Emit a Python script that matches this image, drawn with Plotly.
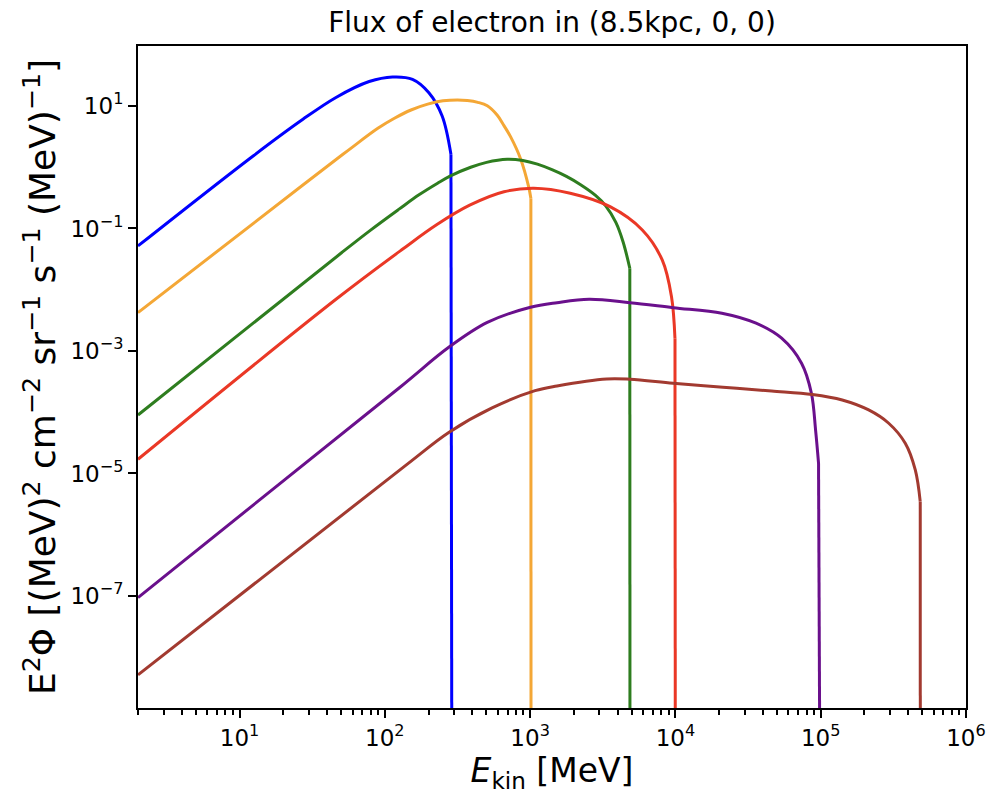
import math
import plotly.graph_objects as go

# ---- data; last point of each = cutoff (flux ~ 0) ----
E_blue = [2, 12.4, 27.3, 46.1, 78.0, 113, 155, 201, 248, 285, 290]
F_blue = [5.19e-2, 1.53, 6.07, 13.8, 25.1, 29.8, 27.3, 16.5, 6.87, 1.63, 1e-12]

E_orange = [2, 27.3, 56.2, 89.5, 116.4, 151.4, 197.2, 251.2, 316.2, 369.8, 436.5, 507.0,
            594.3, 660.7, 732.8, 859.0, 977.2, 1011.6, 1015]
F_orange = [4.227e-3, 0.513, 1.905, 4.325, 6.310, 8.610, 10.72, 12.16, 12.59, 12.30, 11.48,
            10.12, 7.079, 4.786, 3.162, 1.380, 0.4786, 0.3112, 1e-12]

E_green = [2, 50.1, 79.4, 125.9, 171.8, 230.7, 283.1, 389.9, 501.2, 695.0, 891.3, 1122,
           1413, 1778, 2239, 2818, 3311, 3890, 4365, 4853, 4870]
F_green = [9.016e-5, 0.03981, 0.09333, 0.2089, 0.3548, 0.5495, 0.7244, 1.0, 1.202, 1.349,
           1.288, 1.122, 0.9120, 0.7079, 0.5129, 0.3467, 0.2344, 0.1259, 0.06026, 0.02244,
           1e-12]

E_red = [2, 46.1, 132.1, 227.0, 383.7, 660.7, 1059, 1888, 3548, 5916, 8110, 9397, 9931, 10000]
F_red = [1.706e-5, 6.982e-3, 0.04571, 0.1148, 0.2399, 0.3981, 0.4539, 0.3758, 0.2270,
         0.09462, 0.03062, 7.709e-3, 1.585e-3, 1e-12]

E_purple = [2, 125.9, 275.4, 507.0, 1005, 1531, 2547, 4864, 9638, 20890, 35890, 53830,
            73790, 86300, 92260, 96600, 99500]
F_purple = [9.397e-8, 2.512e-4, 1.148e-3, 2.924e-3, 5.176e-3, 6.152e-3, 6.982e-3, 6.152e-3,
            5.093e-3, 4.130e-3, 2.838e-3, 1.614e-3, 6.310e-4, 2.042e-4, 5.012e-5, 1.479e-5,
            1e-12]

E_brown = [2, 141.3, 275.4, 547.0, 1081, 1531, 3365, 4864, 9638, 21230, 45920, 87700,
           140600, 213800, 293800, 381900, 447700, 484200, 485000]
F_brown = [5.140e-9, 1.396e-5, 4.677e-5, 1.175e-4, 2.249e-4, 2.685e-4, 3.491e-4, 3.451e-4,
           2.972e-4, 2.559e-4, 2.223e-4, 1.950e-4, 1.585e-4, 1.089e-4, 6.607e-5, 3.112e-5,
           1.140e-5, 3.467e-6, 1e-12]

series = [
    (E_blue, F_blue, "#0000FF"),
    (E_orange, F_orange, "#F4A736"),
    (E_green, F_green, "#2E7D1F"),
    (E_red, F_red, "#EA3826"),
    (E_purple, F_purple, "#6A108C"),
    (E_brown, F_brown, "#A23A30"),
]

x_tickvals = [1e1, 1e2, 1e3, 1e4, 1e5, 1e6]
x_ticktext = ["10<sup>1</sup>", "10<sup>2</sup>", "10<sup>3</sup>", "10<sup>4</sup>",
              "10<sup>5</sup>", "10<sup>6</sup>"]
x_minor = [m * 10 ** k for k in range(0, 6) for m in range(2, 10)]
y_tickvals = [1e1, 1e-1, 1e-3, 1e-5, 1e-7]
y_ticktext = ["10<sup>1</sup>", "10<sup>−1</sup>", "10<sup>−3</sup>", "10<sup>−5</sup>",
              "10<sup>−7</sup>"]

title_text = "Flux of electron in (8.5kpc, 0, 0)"
x_title = "<i>E</i><sub>kin</sub> [MeV]"
y_title = ("E<sup>2</sup>Φ [(MeV)<sup>2</sup> cm<sup>−2</sup> sr<sup>−1</sup> "
           "s<sup>−1</sup> (MeV)<sup>−1</sup>]")

FONT = "DejaVu Sans"

fig = go.Figure()
for E, F, c in series:
    # smooth spectrum up to the cutoff
    fig.add_trace(go.Scatter(x=E[:-1], y=F[:-1], mode="lines",
                             line=dict(color=c, width=3, shape="spline", smoothing=1.0),
                             showlegend=False, hoverinfo="skip"))
    # sharp drop at the cutoff energy
    fig.add_trace(go.Scatter(x=E[-2:], y=F[-2:], mode="lines",
                             line=dict(color=c, width=3),
                             showlegend=False, hoverinfo="skip"))

fig.update_layout(
    width=998, height=794,
    margin=dict(l=138, r=28, t=46, b=86),
    paper_bgcolor="white", plot_bgcolor="white",
    font=dict(family=FONT, color="black"),
    title=dict(text=title_text, x=0.5, xref="paper", xanchor="center",
               y=1 - 22 / 794, yanchor="middle", font=dict(size=28, family=FONT)),
)
fig.update_xaxes(
    type="log", range=[math.log10(2), 6],
    showgrid=False, zeroline=False,
    showline=True, linecolor="black", linewidth=2, mirror=True,
    tickmode="array", tickvals=x_tickvals, ticktext=x_ticktext,
    ticks="outside", ticklen=8, tickwidth=2, tickcolor="black",
    tickfont=dict(size=23, family=FONT),
    minor=dict(tickmode="array", tickvals=x_minor, ticks="outside", ticklen=4.5,
               tickwidth=1.5, tickcolor="black", showgrid=False),
    title=dict(text=x_title, font=dict(size=33, family=FONT), standoff=6),
)
fig.update_yaxes(
    type="log", range=[-8.83, 1.98],
    showgrid=False, zeroline=False,
    showline=True, linecolor="black", linewidth=2, mirror=True,
    tickmode="array", tickvals=y_tickvals, ticktext=y_ticktext,
    ticks="outside", ticklen=8, tickwidth=2, tickcolor="black",
    tickfont=dict(size=23, family=FONT),
    title=dict(text=y_title, font=dict(size=36, family=FONT), standoff=4),
)

fig.write_html("out.html")
